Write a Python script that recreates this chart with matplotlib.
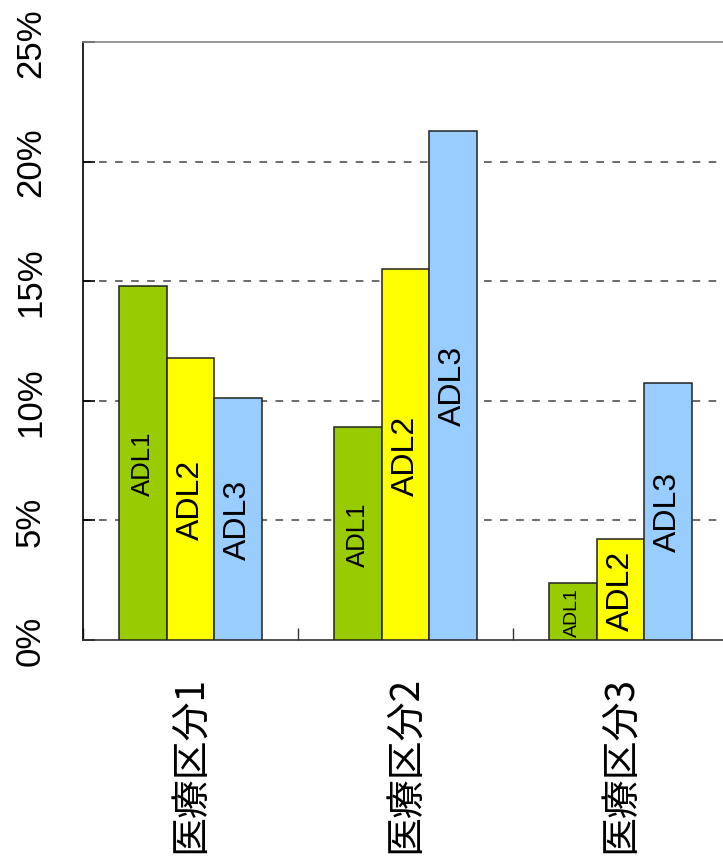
import matplotlib.pyplot as plt
import numpy as np

categories = ['医療区分1', '医療区分2', '医療区分3']
series = ['ADL1', 'ADL2', 'ADL3']
adl1 = [14.8, 8.9, 2.38]
adl2 = [11.8, 15.5, 4.22]
adl3 = [10.1, 21.3, 10.75]
colors = ['#99CC00', '#FFFF00', '#99CCFF']
# font size of the in-bar labels, per series and category
label_sizes = [[18.5, 18.5, 14], [23, 23, 23], [23, 23, 23]]
yticks = [0, 5, 10, 15, 20, 25]
ytick_labels = ['0%', '5%', '10%', '15%', '20%', '25%']

fig = plt.figure(figsize=(7.23, 8.62), dpi=100)
ax = fig.add_axes([83 / 723, 221 / 862, 645 / 723, 598 / 862])

x = np.arange(len(categories)) + 0.5
w = 0.2217
for i, (vals, c) in enumerate(zip([adl1, adl2, adl3], colors)):
    xs = x + (i - 1) * w
    ax.bar(xs, vals, width=w, color=c, edgecolor='#222222', linewidth=1.1, zorder=3)
    for xi, v, fs in zip(xs, vals, label_sizes[i]):
        ax.text(xi, v / 2, series[i], rotation=90, ha='center', va='center',
                fontsize=fs, family=['Liberation Sans', 'DejaVu Sans'], zorder=4)

ax.set_xlim(0, 3)
ax.set_ylim(0, 25)

for yv in yticks[1:-1]:
    ax.axhline(yv, color='#444444', linewidth=1.1, linestyle=(0, (5, 5.5)), zorder=1)

ax.set_yticks(yticks)
ax.set_yticklabels(ytick_labels, rotation=90, va='center',
                   family=['Liberation Sans Narrow', 'Liberation Sans'], fontsize=25)
ax.tick_params(axis='y', direction='in', length=8.6, width=1.2, pad=26, color='black')

ax.set_xticks(x)
ax.set_xticklabels(categories, rotation=90, family=['Noto Sans CJK JP', 'DejaVu Sans'],
                   fontsize=28)
ax.tick_params(axis='x', which='major', length=0, pad=25)
ax.set_xticks([0, 1, 2, 3], minor=True)
ax.tick_params(axis='x', which='minor', direction='in', length=8.6, width=1.0, color='#333333')

ax.spines['left'].set_color('black')
ax.spines['left'].set_linewidth(1.2)
ax.spines['bottom'].set_color('#333333')
ax.spines['bottom'].set_linewidth(1.2)
ax.spines['top'].set_color('#888888')
ax.spines['top'].set_linewidth(1.2)
ax.spines['right'].set_visible(False)

fig.savefig('out.png', dpi=100)
